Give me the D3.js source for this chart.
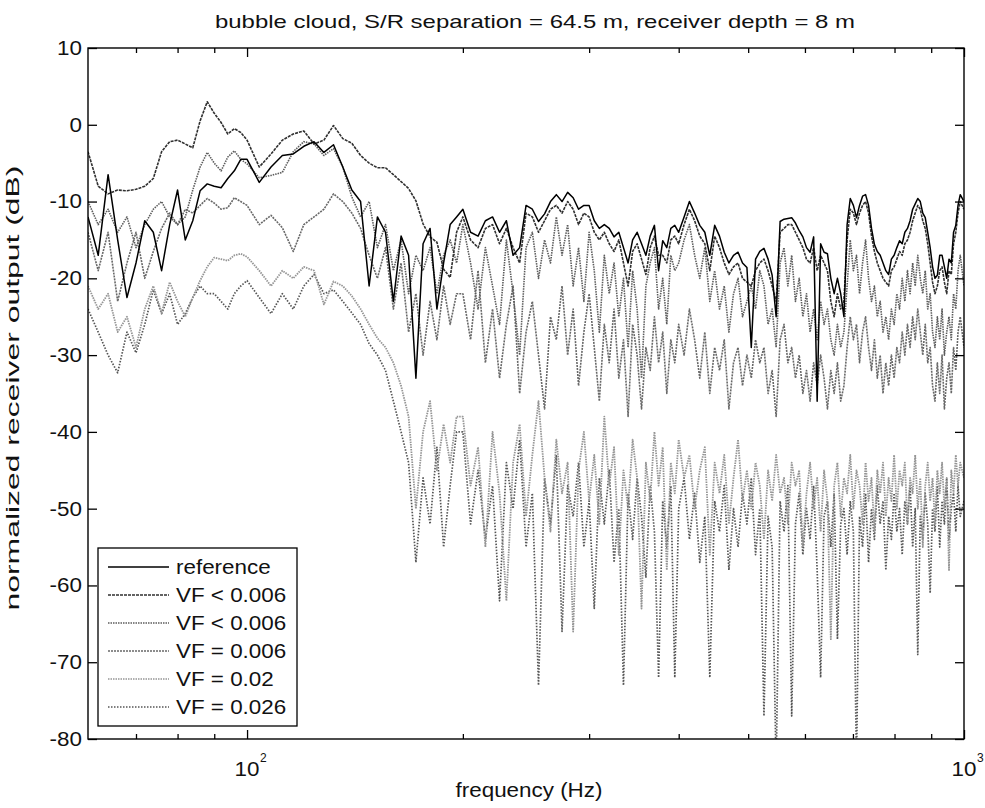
<!DOCTYPE html>
<html><head><meta charset="utf-8">
<script src="https://cdn.jsdelivr.net/npm/d3@7"></script>
<style>body{margin:0;background:#fff} text{font-family:"Liberation Sans",Arial,Helvetica,sans-serif;fill:#111}</style>
</head><body><svg id="c" width="985" height="808"></svg>
<script>
const frequency = [60,62,64,66,68,70,72,74,76,78,80,82,84,86,88,90,92,94,96,98,
100,104,108,112,116,120,124,128,132,136,140,144,148,152,156,160,164,168,172,176,180,184,188,192,196,
200,205,210,215,220,225,230,235,240,245,250,255,260,265,270,275,280,285,290,295,300,305,310,315,320,325,330,335,340,345,350,355,360,365,370,375,380,385,390,395,
400,407,414,421,428,435,442,449,456,463,470,477,484,491,498,505,512,519,526,533,540,547,554,561,568,575,582,589,596,603,610,617,624,631,638,645,652,659,666,673,680,687,694,701,708,715,722,729,736,743,750,757,764,771,778,785,792,799,806,813,820,827,834,841,848,855,862,869,876,883,890,897,904,911,918,925,932,939,946,953,960,967,974,981,988,1000];

const reference = [-12,-17,-6.5,-15,-22.5,-18,-12.5,-14,-19,-13,-8.5,-15,-12.5,-8.6,-7.7,-8,-8.2,-7,-6,-4.5,
-4.5,-7.5,-5.5,-4,-3.8,-2.8,-2.2,-3.6,-2.6,-5.5,-8.5,-10,-21,-12,-14,-23,-14.5,-17,-33,-15.5,-13.5,-24,-18,-13,-12,
-11,-14,-14.5,-12.5,-12,-14,-12.5,-17,-16,-10.5,-11,-12.6,-11.6,-10,-9.1,-10,-8.8,-9.5,-11,-10.5,-10.5,-12.5,-13.5,-13,-13.5,-14.6,-14,-16,-18,-15,-14,-15.5,-17,-14.5,-13.1,-19,-15.1,-16,-13.5,-13.1,
-14,-12,-10,-11.5,-13.1,-14,-17,-13.1,-14.5,-16.6,
-18,-17,-16.6,-18,-18.6,-29,-17.5,-16.5,-16.1,-17.5,
-19.6,-25,-12.6,-12.3,-12.2,-12.1,-12.8,-13.8,-14.6,-16,
-16.6,-14.6,-36,-15.5,-16.6,-16.8,-20,-22,-20,-22,
-25,-13,-9.6,-10.5,-12.1,-10.5,-9.3,-9.1,-10.5,-13.5,
-15.6,-16.5,-17,-18,-19,-19.5,-17.5,-17,-16,-15.1,
-15.5,-14,-13.5,-12.5,-11,-10.3,-9.6,-10,-11.5,-12.1,
-14,-16,-18.5,-20,-19.6,-17,-17,-18.5,-20,-17.5,
-18,-14,-13.1,-10.5,-9.1,-10];

const vfBelow006a = [-3.5,-8,-9,-8.5,-8.6,-8.4,-8,-7,-3.5,-2.2,-2,-2.5,-3,0.5,3,1.5,0.3,-1.2,-0.5,-1,
-2,-5.5,-3.8,-2,-1.2,-0.8,-2.5,-2,-0.1,-1.8,-2.4,-4,-5,-5.6,-5.6,-6.5,-7.4,-8.3,-9.9,-12.9,-14.6,-15.3,-18.8,-19.9,-14,
-12,-15,-16,-13.5,-13,-15.5,-13.5,-16,-18,-11.5,-12,-14,-12.5,-11,-10.5,-11.5,-10,-11,-13,-11.5,-12,-14,-15,-14,-15.5,-16.5,-15,-18,-21,-16.5,-15.5,-17.5,-19.5,-16,-14.5,-17,-17,-18,-15,-14.5,
-15.5,-13,-11,-12.5,-14.5,-15.5,-19,-14.5,-16,-18,
-19.5,-18.5,-18,-20,-20.5,-21,-19,-18,-17.5,-19,
-21,-23,-14,-13.5,-13,-13,-14,-15,-16,-17.5,
-18,-16,-19,-17,-18,-19,-23,-25,-22,-24,
-23,-15,-11,-11.5,-13,-11.5,-10.5,-10,-11.5,-14.5,
-16.5,-18,-19,-20,-20.5,-21,-19,-18.5,-17.5,-16.5,
-17,-15.5,-15,-14,-12.5,-11.5,-10.5,-11,-12.5,-13.5,
-15.5,-18,-20.5,-22,-21,-19,-18.5,-20.5,-22,-19,
-19.5,-15.5,-14,-11.5,-10,-11];

const vfBelow006b = [-10,-13,-11,-14,-12,-16,-13,-11,-10,-12,-13,-12,-8.5,-5.5,-3.6,-5,-6,-4.2,-3.4,-4.5,
-5.1,-6.9,-6.6,-6.2,-3.5,-2.2,-2.5,-4,-3.1,-5.5,-9.4,-12,-10,-16,-13,-19,-15,-22,-17,-19,-16,-22,-17,-15,-18,
-13,-18,-24,-16,-21,-26,-15,-22,-30,-16,-14,-20,-15,-18,-12,-17,-13,-21,-16,-23,-14,-19,-27,-17,-22,-18,-25,-20,-29,-19,-24,-33,-21,-18,-16,-24,-20,-26,-17,-19,
-18,-15,-13,-17,-20,-16,-23,-19,-24,-21,
-27,-22,-20,-25,-23,-21,-24,-19,-21,-26,
-24,-29,-18,-16,-21,-17,-23,-20,-25,-22,
-27,-24,-28,-23,-26,-24,-28,-30,-26,-29,
-27,-21,-15,-19,-17,-22,-18,-15,-20,-23,
-21,-25,-23,-27,-25,-28,-24,-26,-22,-24,
-20,-23,-19,-22,-18,-21,-17,-20,-22,-19,
-24,-22,-27,-29,-25,-28,-24,-30,-27,-25,
-28,-22,-24,-19,-17,-21];

const vf006 = [-14,-19,-14,-23,-18,-14,-20,-16.5,-13.5,-11.5,-13,-11,-11.5,-10.5,-9.6,-10.2,-11,-10.8,-9.5,-10,
-10.5,-13,-11.8,-13.4,-16.5,-13,-12,-11,-9,-10,-11.5,-13.5,-17,-20,-16,-24,-18,-27,-22,-30,-23,-28,-21,-26,-22,
-22,-28,-19,-31,-24,-33,-26,-21,-35,-27,-23,-30,-37,-25,-28,-21,-30,-24,-34,-27,-22,-29,-36,-26,-31,-24,-33,-28,-38,-26,-30,-37,-29,-32,-25,-31,-27,-35,-28,-31,
-26,-30,-24,-28,-33,-27,-35,-29,-32,-28,
-37,-31,-29,-34,-30,-33,-28,-31,-29,-35,
-32,-38,-28,-26,-31,-29,-33,-30,-35,-32,
-36,-31,-34,-30,-33,-37,-32,-35,-31,-36,
-34,-29,-25,-28,-26,-31,-27,-25,-29,-32,
-28,-33,-30,-35,-31,-34,-30,-33,-29,-31,
-27,-30,-26,-29,-25,-28,-24,-27,-30,-26,
-31,-29,-34,-36,-31,-35,-30,-37,-33,-31,
-35,-29,-32,-27,-25,-29];

const vf02 = [-21,-24,-22,-27,-25,-29,-24,-21,-24.5,-20.5,-23,-25,-22.5,-20.3,-18.5,-17.3,-17.5,-17.7,-17,-16.8,
-17.2,-19,-21,-19,-20,-18.5,-19,-23.4,-20.4,-21,-22.3,-24,-26,-27.8,-29,-31,-34,-38,-50,-40,-36,-45,-39,-44,-38,
-38,-47,-42,-55,-40,-48,-62,-44,-39,-51,-43,-36,-46,-53,-41,-48,-44,-66,-45,-40,-49,-43,-52,-38,-47,-42,-56,-45,-50,-41,-46,-63,-44,-49,-40,-47,-42,-58,-44,-48,
-41,-46,-43,-50,-45,-42,-56,-44,-48,-43,
-52,-46,-41,-49,-45,-50,-44,-47,-54,-45,
-49,-43,-48,-46,-52,-44,-47,-45,-55,-48,
-44,-50,-46,-53,-45,-49,-67,-47,-44,-51,
-46,-48,-43,-50,-45,-47,-52,-44,-49,-46,
-53,-45,-48,-44,-51,-46,-49,-43,-50,-45,
-47,-44,-52,-46,-48,-43,-50,-46,-55,-47,
-44,-49,-46,-52,-45,-48,-44,-50,-46,-58,
-45,-48,-43,-47,-44,-46];

const vf026 = [-24,-27,-30,-32.3,-27,-29.7,-26,-21.5,-24.6,-22,-26,-24.6,-22.5,-21,-22,-22,-23,-24,-22,-21,
-20.3,-22.5,-24.6,-22,-24,-21,-19.5,-22,-21.5,-23,-24.5,-26,-28.5,-30,-32,-36,-40,-44,-57,-46,-52,-42,-55,-47,-40,
-40,-52,-45,-54,-47,-62,-44,-50,-41,-55,-48,-73,-46,-52,-43,-66,-47,-51,-44,-55,-49,-63,-46,-52,-45,-57,-50,-73,-48,-54,-46,-51,-59,-47,-53,-72,-49,-55,-47,-72,
-50,-46,-54,-48,-57,-51,-72,-49,-53,-47,
-58,-50,-55,-48,-52,-46,-56,-50,-77,-51,
-55,-84,-49,-53,-47,-77,-52,-48,-56,-50,
-54,-47,-58,-72,-51,-49,-55,-48,-67,-52,
-50,-56,-49,-53,-84,-51,-55,-48,-57,-50,
-54,-47,-52,-49,-58,-51,-54,-48,-53,-50,
-56,-49,-52,-47,-55,-50,-69,-51,-54,-48,
-52,-61,-50,-53,-47,-55,-49,-52,-46,-54,
-50,-48,-53,-47,-51,-49];

const seriesNames = ["reference","VF < 0.006","VF < 0.006","VF = 0.006","VF = 0.02","VF = 0.026"];
const yTicks = [10,0,-10,-20,-30,-40,-50,-60,-70,-80];
const xMajorTicks = [100,1000];
const xMajorLabels = [["10","2"],["10","3"]];
const xMinorTicks = [70,80,90,200,300,400,500,600,700,800,900];
const titleText = "bubble cloud, S/R separation = 64.5 m, receiver depth = 8 m";
const xLabelText = "frequency (Hz)";
const yLabelText = "normalized receiver output (dB)";

const allSeries = [reference, vfBelow006a, vfBelow006b, vf006, vf02, vf026];
const styles = [
  {color:"#000000", dash:null, w:1.5},
  {color:"#303030", dash:"3,1", w:1.6},
  {color:"#5c5c5c", dash:"1.5,1", w:1.6},
  {color:"#686868", dash:"2,1", w:1.6},
  {color:"#959595", dash:"1.5,1", w:1.8},
  {color:"#555555", dash:"1.5,1.5", w:1.7}
];

const L = 88, R = 964, T = 48, B = 739;
const svg = d3.select("#c");
const x = d3.scaleLog().domain([60,1000]).range([L,R]);
const y = d3.scaleLinear().domain([-80,10]).range([B,T]);

svg.append("defs").append("clipPath").attr("id","clip")
  .append("rect").attr("x",L).attr("y",T).attr("width",R-L).attr("height",B-T);

const line = d3.line().x((d,i)=>x(frequency[i])).y(d=>y(d));
const g = svg.append("g").attr("clip-path","url(#clip)");
for (let k = allSeries.length-1; k >= 0; k--) {
  g.append("path").attr("d", line(allSeries[k]))
    .attr("fill","none").attr("stroke",styles[k].color)
    .attr("stroke-width",styles[k].w).attr("stroke-linejoin","round")
    .attr("stroke-dasharray",styles[k].dash);
}

// axes
const fmt = d => String(d);
const ax = svg.append("g");
ax.append("g").attr("transform",`translate(${L},0)`)
  .call(d3.axisLeft(y).tickValues(yTicks).tickSizeInner(-9).tickSizeOuter(0).tickPadding(6).tickFormat(fmt))
  .call(s=>s.select(".domain").remove())
  .call(s=>s.selectAll("text").attr("class","wide").style("font-size","20px").style("font-family",null));
ax.append("g").attr("transform",`translate(${R},0)`)
  .call(d3.axisRight(y).tickValues(yTicks).tickSizeInner(-9).tickSizeOuter(0).tickFormat(""))
  .call(s=>s.select(".domain").remove());
ax.append("g").attr("transform",`translate(0,${B})`)
  .call(d3.axisBottom(x).tickValues(xMajorTicks).tickSizeInner(-9).tickSizeOuter(0).tickFormat(""))
  .call(s=>s.select(".domain").remove());
ax.append("g").attr("transform",`translate(0,${B})`)
  .call(d3.axisBottom(x).tickValues(xMinorTicks).tickSizeInner(-5).tickSizeOuter(0).tickFormat(""))
  .call(s=>s.select(".domain").remove());
ax.append("g").attr("transform",`translate(0,${T})`)
  .call(d3.axisTop(x).tickValues(xMajorTicks).tickSizeInner(-9).tickSizeOuter(0).tickFormat(""))
  .call(s=>s.select(".domain").remove());
ax.append("g").attr("transform",`translate(0,${T})`)
  .call(d3.axisTop(x).tickValues(xMinorTicks).tickSizeInner(-5).tickSizeOuter(0).tickFormat(""))
  .call(s=>s.select(".domain").remove());
ax.selectAll(".tick line").attr("stroke","#000").attr("stroke-width",1.3);
svg.append("rect").attr("x",L).attr("y",T).attr("width",R-L).attr("height",B-T)
  .attr("fill","none").attr("stroke","#000").attr("stroke-width",1.4);

// x tick labels 10^n
xMajorTicks.forEach((v,i)=>{
  svg.append("text").attr("class","wide").attr("x",x(v)).attr("y",776)
    .attr("text-anchor","middle").style("font-size","20px").text(xMajorLabels[i][0]);
  svg.append("text").attr("x",x(v)+13).attr("y",762)
    .style("font-size","12px").text(xMajorLabels[i][1]);
});

// labels
svg.append("text").attr("x",535).attr("y",28).attr("text-anchor","middle")
  .style("font-size","19px").attr("textLength",640).attr("lengthAdjust","spacingAndGlyphs").text(titleText);
svg.append("text").attr("class","wide").attr("x",529).attr("y",797).attr("text-anchor","middle")
  .style("font-size","20px").text(xLabelText);
svg.append("text").attr("transform","translate(19,388) rotate(-90)").attr("text-anchor","middle")
  .style("font-size","19px").attr("textLength",445).attr("lengthAdjust","spacingAndGlyphs").text(yLabelText);

// legend
const lg = svg.append("g");
lg.append("rect").attr("x",98).attr("y",548).attr("width",199).attr("height",178)
  .attr("fill","#fff").attr("stroke","#000").attr("stroke-width",1.3);
seriesNames.forEach((n,k)=>{
  const yy = 567 + k*28;
  lg.append("line").attr("x1",108).attr("x2",169).attr("y1",yy).attr("y2",yy)
    .attr("stroke",styles[k].color).attr("stroke-width",1.5).attr("stroke-dasharray",styles[k].dash);
  lg.append("text").attr("class","wide").attr("x",176).attr("y",yy+7).style("font-size","20px").text(n);
});

// widen text slightly to match the reference's horizontal proportions
svg.selectAll("text.wide").each(function(){
  const len = this.getComputedTextLength();
  d3.select(this).attr("textLength", len*1.12).attr("lengthAdjust","spacingAndGlyphs");
});
</script></body></html>
